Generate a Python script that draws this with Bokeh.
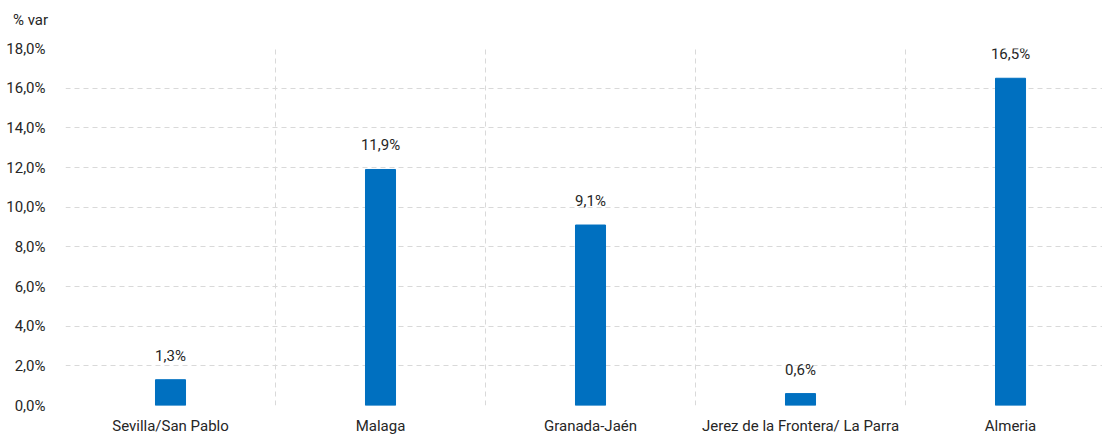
from bokeh.plotting import figure
from bokeh.models import ColumnDataSource, FixedTicker, Range1d, Div
from bokeh.layouts import column
from bokeh.core.properties import value
from bokeh.embed import file_html
from bokeh.resources import INLINE

categories = ["Sevilla/San Pablo", "Malaga", "Granada-Jaén", "Jerez de la Frontera/ La Parra", "Almeria"]
values = [1.3, 11.9, 9.1, 0.6, 16.5]
labels = ["1,3%", "11,9%", "9,1%", "0,6%", "16,5%"]
y_ticks = [0, 2, 4, 6, 8, 10, 12, 14, 16, 18]
unit_label = "% var"

FONT = "Roboto"
FS = "15px"
TXT = "#262626"

xs = [i + 0.5 for i in range(len(categories))]
src = ColumnDataSource(dict(x=xs, top=values, lab=labels))

p = figure(width=1102, height=407, output_backend="svg", toolbar_location=None,
           x_range=Range1d(0, 4.938), y_range=Range1d(0, 18),
           min_border_left=65, min_border_top=18, min_border_right=0, min_border_bottom=31)
p.outline_line_color = None

p.vbar(x="x", top="top", width=0.143, source=src, color="#0070C0")
p.text(x="x", y="top", text="lab", source=src, text_align="center", text_baseline="bottom",
       y_offset=-15, text_font=value(FONT), text_font_size=FS, text_color=TXT)

# y axis
p.yaxis.ticker = FixedTicker(ticks=y_ticks)
p.yaxis.major_label_overrides = {t: f"{t:.1f}".replace(".", ",") + "%" for t in y_ticks}
p.yaxis.axis_line_color = None
p.yaxis.major_tick_line_color = None
p.yaxis.minor_tick_line_color = None
p.yaxis.major_label_text_font = FONT
p.yaxis.major_label_text_font_size = FS
p.yaxis.major_label_text_color = TXT
p.yaxis.major_label_standoff = 14

# x axis
p.xaxis.ticker = FixedTicker(ticks=xs)
p.xaxis.major_label_overrides = {x: c for x, c in zip(xs, categories)}
p.xaxis.axis_line_color = None
p.xaxis.major_tick_line_color = None
p.xaxis.minor_tick_line_color = None
p.xaxis.major_label_text_font = FONT
p.xaxis.major_label_text_font_size = FS
p.xaxis.major_label_text_color = TXT
p.xaxis.major_label_standoff = 5

# grids
p.ygrid.grid_line_color = "#d9d9d9"
p.ygrid.grid_line_dash = "5 4"
p.xgrid.ticker = FixedTicker(ticks=list(range(len(categories) + 1)))
p.xgrid.grid_line_color = "#d9d9d9"
p.xgrid.grid_line_dash = "5 4"

head = Div(text=f'<div style="position:relative; left:13px; top:12px; font-family:Roboto; '
                f'font-size:15px; line-height:16px; color:{TXT}; white-space:nowrap;">{unit_label}</div>',
           width=100, height=30, margin=(0, 0, 0, 0))

layout = column(head, p, spacing=0)
open("out.html", "w").write(file_html(layout, INLINE))
